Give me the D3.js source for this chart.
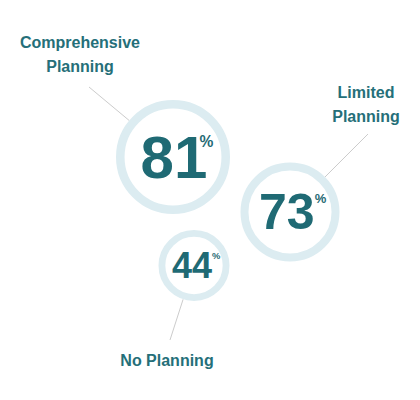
<!DOCTYPE html>
<html>
<head>
<meta charset="utf-8">
<script src="https://cdn.jsdelivr.net/npm/d3@7"></script>
<style>
  html, body { margin: 0; padding: 0; background: #fff; }
  svg { display: block; font-family: "Liberation Sans", Arial, sans-serif; }
</style>
</head>
<body>
<svg id="chart"></svg>
<script>
// data
const categories = ["Comprehensive Planning", "Limited Planning", "No Planning"];
const labelLines = [["Comprehensive", "Planning"], ["Limited", "Planning"], ["No Planning"]];
const values = [81, 73, 44];

// layout (bubble centre, outer radius, number offset, label anchor, leader start)
const layout = [
    { cx: 173, cy: 157, r: 57, nx: -0.54, pdx: -0.13, lx: 80, ly: 48, tx: 89, ty: 87 },
    { cx: 290, cy: 212, r: 49.5, nx: -0.62, pdx: 0, lx: 366, ly: 98, tx: 368, ty: 134 },
    { cx: 194, cy: 265.5, r: 35.5, nx: -0.61, pdx: 0, lx: 167, ly: 366, tx: 170, ty: 340 }
];

const width = 420, height = 400;
const teal = "#1f6a74";
const ring = "#dcecf1";

const svg = d3.select("#chart")
    .attr("width", width)
    .attr("height", height);

const fontSize = d3.scaleLinear().domain([35.5, 49.5, 57]).range([36, 50, 60]);

const data = categories.map((c, i) => ({ key: c, value: values[i], lines: labelLines[i], ...layout[i] }));

const g = svg.selectAll("g.bubble")
    .data(data)
    .join("g")
    .attr("class", "bubble");

// leader lines
const edge = (d, f) => {
    const a = Math.atan2(d.ty - d.cy, d.tx - d.cx);
    return f(a) * d.r;
};
g.append("line")
    .attr("x1", d => d.tx)
    .attr("y1", d => d.ty)
    .attr("x2", d => d.cx + edge(d, Math.cos))
    .attr("y2", d => d.cy + edge(d, Math.sin))
    .attr("stroke", "#cccccc")
    .attr("stroke-width", 1);

// rings
const sw = r => 4 + r * 0.08;
g.append("circle")
    .attr("cx", d => d.cx)
    .attr("cy", d => d.cy)
    .attr("r", d => d.r - sw(d.r) / 2)
    .attr("fill", "#fff")
    .attr("stroke", ring)
    .attr("stroke-width", d => sw(d.r));

// numbers with % superscript
const num = g.append("text")
    .attr("x", d => d.cx + d.nx * fontSize(d.r))
    .attr("y", d => d.cy + fontSize(d.r) * 0.345)
    .attr("fill", teal)
    .attr("font-weight", "bold");

num.append("tspan")
    .attr("font-size", d => fontSize(d.r))
    .text(d => d.value);

num.append("tspan")
    .attr("font-size", d => fontSize(d.r) * 0.26)
    .attr("dx", d => d.pdx * fontSize(d.r))
    .attr("dy", d => -fontSize(d.r) * 0.52)
    .text("%");

// labels
g.append("text")
    .attr("text-anchor", "middle")
    .attr("font-size", 16)
    .attr("font-weight", "bold")
    .attr("fill", "#256f79")
    .selectAll("tspan")
    .data(d => d.lines.map((l, i) => ({ l, i, x: d.lx, y: d.ly })))
    .join("tspan")
    .attr("x", d => d.x)
    .attr("y", d => d.y + d.i * 24)
    .text(d => d.l);
</script>
</body>
</html>
